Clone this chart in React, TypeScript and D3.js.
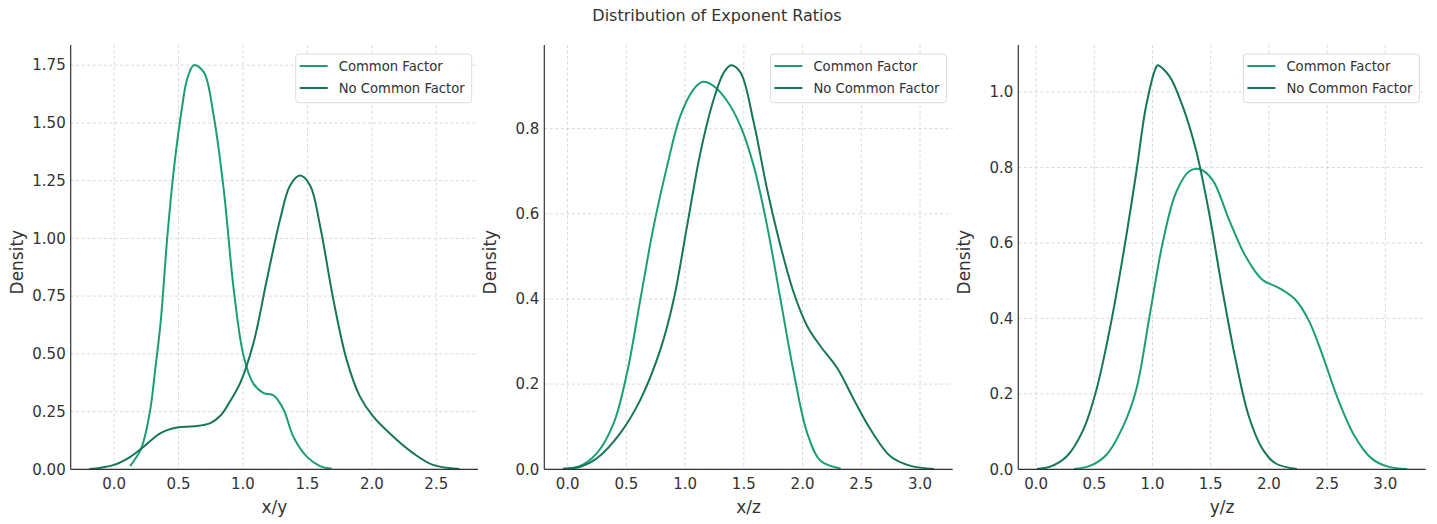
import React from "react";
import * as d3 from "d3";

const TITLE = "Distribution of Exponent Ratios";
const SERIES_NAMES = ["Common Factor", "No Common Factor"];
const COLORS = ["#1b9e77", "#17765a"];

// Panel 1: x/y
const xyCommonX = [0.124, 0.206, 0.245, 0.284, 0.322, 0.361, 0.412, 0.464, 0.528, 0.567, 0.619, 0.696, 0.773, 0.851, 0.928, 1.005, 1.082, 1.16, 1.237, 1.314, 1.392, 1.495, 1.598, 1.688];
const xyCommonY = [0.014, 0.084, 0.157, 0.27, 0.446, 0.635, 1.0, 1.3, 1.57, 1.69, 1.75, 1.72, 1.53, 1.21, 0.78, 0.49, 0.37, 0.33, 0.32, 0.26, 0.14, 0.055, 0.014, 0.003];
const xyNoCommonX = [-0.193, -0.103, 0.0, 0.129, 0.232, 0.361, 0.49, 0.619, 0.747, 0.83, 0.9, 0.979, 1.082, 1.186, 1.289, 1.366, 1.443, 1.521, 1.598, 1.701, 1.804, 1.907, 2.01, 2.165, 2.32, 2.474, 2.68];
const xyNoCommonY = [0.001, 0.007, 0.019, 0.055, 0.099, 0.157, 0.181, 0.186, 0.2, 0.235, 0.295, 0.374, 0.548, 0.823, 1.084, 1.229, 1.272, 1.229, 1.055, 0.736, 0.475, 0.316, 0.229, 0.142, 0.07, 0.019, 0.001];

// Panel 2: x/z
const xzCommonX = [-0.04, 0.108, 0.25, 0.392, 0.506, 0.619, 0.733, 0.847, 0.96, 1.074, 1.153, 1.244, 1.358, 1.472, 1.585, 1.699, 1.813, 1.926, 2.04, 2.153, 2.324];
const xzCommonY = [0.001, 0.008, 0.038, 0.108, 0.226, 0.398, 0.571, 0.712, 0.83, 0.893, 0.91, 0.9, 0.865, 0.806, 0.712, 0.571, 0.398, 0.226, 0.085, 0.02, 0.002];
const xzNoCommonX = [-0.04, 0.108, 0.25, 0.449, 0.619, 0.79, 0.903, 1.017, 1.131, 1.244, 1.33, 1.392, 1.472, 1.585, 1.699, 1.813, 1.926, 2.04, 2.153, 2.295, 2.438, 2.58, 2.75, 2.92, 3.12];
const xzNoCommonY = [0.001, 0.006, 0.026, 0.085, 0.163, 0.281, 0.398, 0.571, 0.744, 0.869, 0.932, 0.949, 0.932, 0.814, 0.657, 0.524, 0.414, 0.336, 0.289, 0.238, 0.163, 0.093, 0.03, 0.008, 0.001];

// Panel 3: y/z
const yzCommonX = [0.325, 0.461, 0.603, 0.746, 0.86, 0.974, 1.087, 1.201, 1.315, 1.4, 1.514, 1.657, 1.799, 1.941, 2.084, 2.226, 2.34, 2.454, 2.596, 2.738, 2.881, 3.023, 3.188];
const yzCommonY = [0.001, 0.009, 0.038, 0.113, 0.211, 0.405, 0.6, 0.733, 0.79, 0.796, 0.768, 0.662, 0.565, 0.503, 0.481, 0.45, 0.396, 0.308, 0.184, 0.087, 0.029, 0.007, 0.001];
const yzNoCommonX = [0.006, 0.12, 0.262, 0.404, 0.518, 0.632, 0.746, 0.86, 0.945, 1.03, 1.045, 1.145, 1.258, 1.372, 1.486, 1.6, 1.714, 1.828, 1.941, 2.055, 2.24];
const yzNoCommonY = [0.001, 0.007, 0.034, 0.104, 0.211, 0.37, 0.565, 0.786, 0.963, 1.065, 1.071, 1.042, 0.963, 0.848, 0.68, 0.476, 0.29, 0.14, 0.056, 0.016, 0.001];

const xLabels = ["x/y", "x/z", "y/z"];
const xTicks1 = [0, 0.5, 1.0, 1.5, 2.0, 2.5];
const xTicks23 = [0, 0.5, 1.0, 1.5, 2.0, 2.5, 3.0];
const yTicks1 = [0, 0.25, 0.5, 0.75, 1.0, 1.25, 1.5, 1.75];
const yTicks2 = [0, 0.2, 0.4, 0.6, 0.8];
const yTicks3 = [0, 0.2, 0.4, 0.6, 0.8, 1.0];

const zip = (xs: number[], ys: number[]) => xs.map((x, i) => [x, ys[i]] as [number, number]);

const panels = [
  {
    label: xLabels[0], left: 70.7, right: 478, xTicks: xTicks1, yTicks: yTicks1, yFmt: ".2f",
    series: [zip(xyCommonX, xyCommonY), zip(xyNoCommonX, xyNoCommonY)],
  },
  {
    label: xLabels[1], left: 544.3, right: 952.7, xTicks: xTicks23, yTicks: yTicks2, yFmt: ".1f",
    series: [zip(xzCommonX, xzCommonY), zip(xzNoCommonX, xzNoCommonY)],
  },
  {
    label: xLabels[2], left: 1018.3, right: 1425.7, xTicks: xTicks23, yTicks: yTicks3, yFmt: ".1f",
    series: [zip(yzCommonX, yzCommonY), zip(yzNoCommonX, yzNoCommonY)],
  },
];

const TOP = 45;
const BOTTOM = 469.3;
const FONT = "DejaVu Sans, sans-serif";
const TEXT = "#333333";

function Panel({ p }: { p: (typeof panels)[number] }) {
  const allX = p.series.flat().map((d) => d[0]);
  const allY = p.series.flat().map((d) => d[1]);
  const [xmin, xmax] = d3.extent(allX) as [number, number];
  const xpad = (xmax - xmin) * 0.05;
  const ymax = (d3.max(allY) as number) * 1.05;
  const x = d3.scaleLinear().domain([xmin - xpad, xmax + xpad]).range([p.left, p.right]);
  const y = d3.scaleLinear().domain([0, ymax]).range([BOTTOM, TOP]);
  const line = d3
    .line<[number, number]>()
    .x((d) => x(d[0]))
    .y((d) => y(d[1]))
    .curve(d3.curveCatmullRom.alpha(0.5));
  const fmt = d3.format(p.yFmt);
  const bx = p.right - 182.3;
  const by = 54;
  return (
    <g>
      {p.xTicks.map((t) => (
        <line key={"gx" + t} x1={x(t)} x2={x(t)} y1={TOP} y2={BOTTOM} stroke="#cfcfcf" strokeWidth={0.8} strokeDasharray="3,2.5" />
      ))}
      {p.yTicks.map((t) => (
        <line key={"gy" + t} x1={p.left} x2={p.right} y1={y(t)} y2={y(t)} stroke="#cfcfcf" strokeWidth={0.8} strokeDasharray="3,2.5" />
      ))}
      {p.series.map((s, i) => (
        <path key={"s" + i} d={line(s) || ""} fill="none" stroke={COLORS[i]} strokeWidth={2} />
      ))}
      <line x1={p.left} x2={p.left} y1={TOP} y2={BOTTOM} stroke="#333" strokeWidth={1.2} />
      <line x1={p.left} x2={p.right} y1={BOTTOM} y2={BOTTOM} stroke="#333" strokeWidth={1.2} />
      {p.xTicks.map((t) => (
        <text key={"tx" + t} x={x(t)} y={489} textAnchor="middle" fontSize={15} fill={TEXT} fontFamily={FONT}>
          {d3.format(".1f")(t)}
        </text>
      ))}
      {p.yTicks.map((t) => (
        <text key={"ty" + t} x={p.left - 5} y={y(t)} dy="0.35em" textAnchor="end" fontSize={15} fill={TEXT} fontFamily={FONT}>
          {fmt(t)}
        </text>
      ))}
      <text x={(p.left + p.right) / 2} y={513} textAnchor="middle" fontSize={17} fill={TEXT} fontFamily={FONT}>
        {p.label}
      </text>
      <text transform={`translate(${p.left - 48},${(TOP + BOTTOM) / 2 + 5}) rotate(-90)`} textAnchor="middle" fontSize={17} fill={TEXT} fontFamily={FONT}>
        Density
      </text>
      <rect x={bx} y={by} width={176} height={48.7} rx={3} fill="white" fillOpacity={0.85} stroke="#dddddd" strokeWidth={1} />
      {SERIES_NAMES.map((n, i) => (
        <g key={n}>
          <line x1={bx + 4} x2={bx + 32} y1={by + 12 + i * 22} y2={by + 12 + i * 22} stroke={COLORS[i]} strokeWidth={2} />
          <text x={bx + 43} y={by + 12 + i * 22} dy="0.35em" fontSize={13.2} fill={TEXT} fontFamily={FONT}>
            {n}
          </text>
        </g>
      ))}
    </g>
  );
}

export default function App() {
  return (
    <svg width={1437} height={524} style={{ position: "absolute", left: 0, top: 0, background: "white" }}>
      <rect width={1437} height={524} fill="white" />
      <text x={717} y={15} dy="0.35em" textAnchor="middle" fontSize={16} fill={TEXT} fontFamily={FONT}>
        {TITLE}
      </text>
      {panels.map((p, i) => (
        <Panel key={i} p={p} />
      ))}
    </svg>
  );
}
